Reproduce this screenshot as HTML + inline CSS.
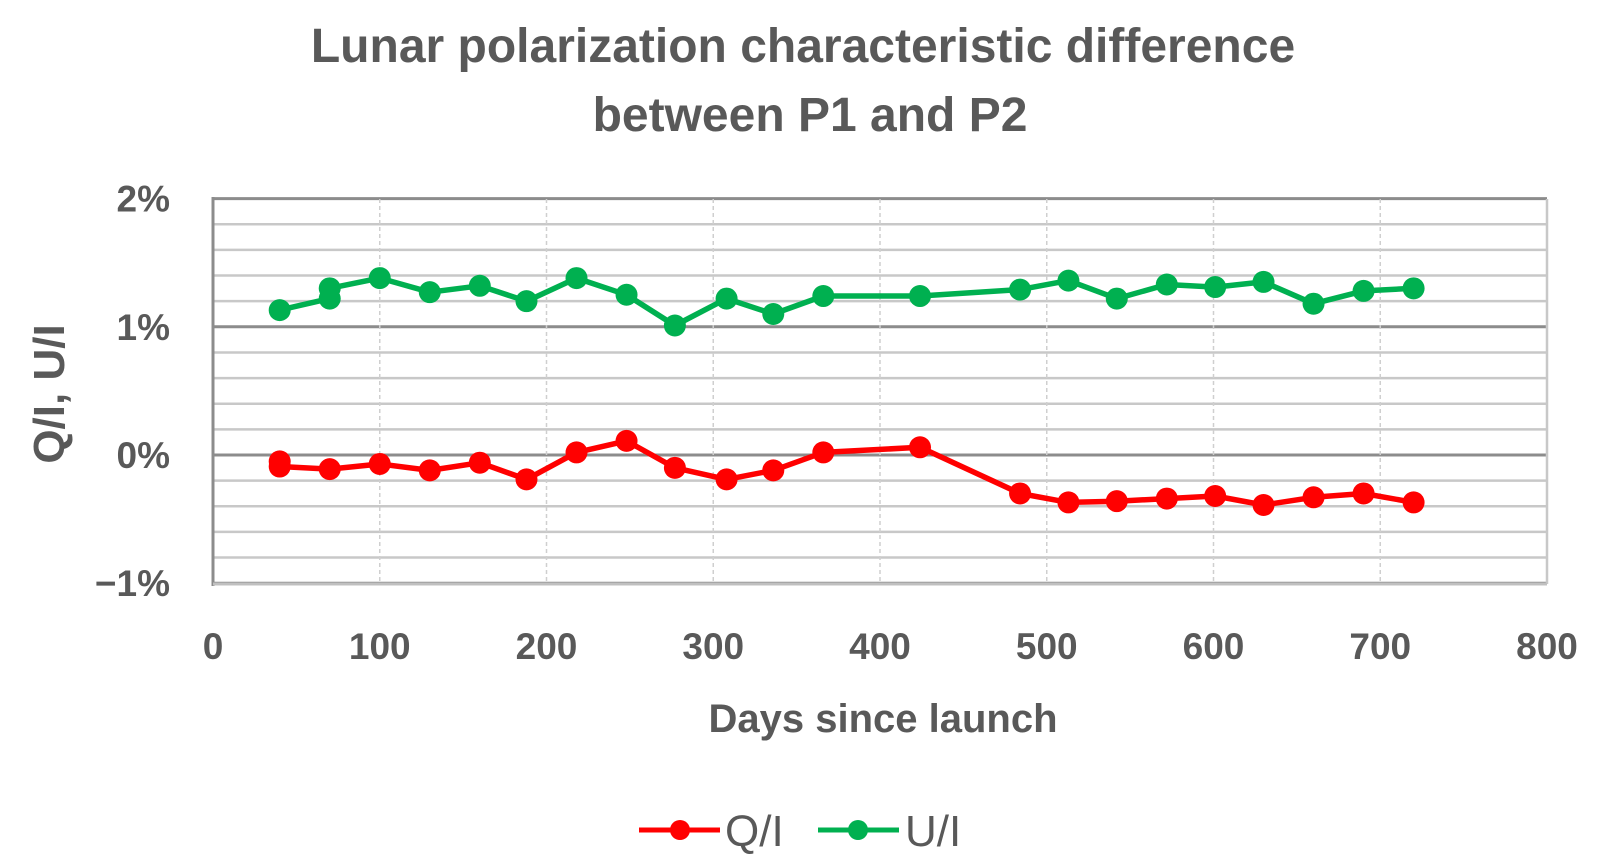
<!DOCTYPE html>
<html><head><meta charset="utf-8"><style>
html,body{margin:0;padding:0;background:#fff;width:1603px;height:865px;overflow:hidden}
svg text{font-family:"Liberation Sans",sans-serif;fill:#595959;font-weight:bold}
</style></head><body>
<svg id="s" width="1603" height="865" viewBox="0 0 1603 865" xmlns="http://www.w3.org/2000/svg">
<text x="803" y="62" font-size="48" text-anchor="middle">Lunar polarization characteristic difference</text>
<text x="810" y="131" font-size="48" text-anchor="middle">between P1 and  P2</text>
<g id="grid"></g>
<g id="lbl" font-size="37"></g>
<text x="0" y="0" font-size="44" text-anchor="middle" transform="translate(64,394) rotate(-90)">Q/I, U/I</text>
<text x="883" y="732" font-size="40" text-anchor="middle">Days since launch</text>
<g id="ser"></g>
<line x1="639" y1="830" x2="720" y2="830" stroke="#ff0000" stroke-width="5"/>
<circle cx="680" cy="830" r="10" fill="#ff0000"/>
<text x="725" y="846" font-size="44" style="font-weight:normal">Q/I</text>
<line x1="818" y1="830" x2="899" y2="830" stroke="#00b050" stroke-width="5"/>
<circle cx="858" cy="830" r="10" fill="#00b050"/>
<text x="905" y="846" font-size="44" style="font-weight:normal">U/I</text>
</svg>
<script>
var NS="http://www.w3.org/2000/svg";
function X(d){return 213+d*1.6675}
function Y(p){return 455-p*128.2}
function el(p,t,a){var e=document.createElementNS(NS,t);for(var k in a)e.setAttribute(k,a[k]);p.appendChild(e);return e}
var g=document.getElementById('grid'),l=document.getElementById('lbl'),s=document.getElementById('ser');
for(var i=0;i<=15;i++){var p=-1+i*0.2,y=Y(p);var major=(i%5==0);
 el(g,'line',{x1:213,x2:1547,y1:y,y2:y,stroke:major?'#8c8c8c':'#c8c8c8','stroke-width':major?3:2.5});}
for(var d=100;d<=700;d+=100){el(g,'line',{x1:X(d),x2:X(d),y1:199,y2:584,stroke:'#cfcfcf','stroke-width':1.5,'stroke-dasharray':'4,3'});}
el(g,'line',{x1:1547,x2:1547,y1:199,y2:584,stroke:'#c8c8c8','stroke-width':2.5});
el(g,'line',{x1:213,x2:213,y1:197,y2:586,stroke:'#8c8c8c','stroke-width':3});
el(g,'line',{x1:213,x2:1547,y1:584,y2:584,stroke:'#c0c0c0','stroke-width':3});
var yl=[['2%',2],['1%',1],['0%',0],['\u22121%',-1]];
yl.forEach(function(a){var t=el(l,'text',{x:170,y:Y(a[1])+13,'text-anchor':'end'});t.textContent=a[0];});
for(var d=0;d<=800;d+=100){var t=el(l,'text',{x:X(d),y:659,'text-anchor':'middle'});t.textContent=d;}
var U=[[40,1.13],[70,1.22],[70,1.30],[100,1.38],[130,1.27],[160,1.32],[188,1.20],[218,1.38],[248,1.25],[277,1.01],[308,1.22],[336,1.10],[366,1.24],[424,1.24],[484,1.29],[513,1.36],[542,1.22],[572,1.33],[601,1.31],[630,1.35],[660,1.18],[690,1.28],[720,1.30]];
var Q=[[40,-0.05],[40,-0.09],[70,-0.11],[100,-0.07],[130,-0.12],[160,-0.06],[188,-0.19],[218,0.02],[248,0.11],[277,-0.10],[308,-0.19],[336,-0.12],[366,0.02],[424,0.06],[484,-0.30],[513,-0.37],[542,-0.36],[572,-0.34],[601,-0.32],[630,-0.39],[660,-0.33],[690,-0.30],[720,-0.37]];
function draw(D,c){var pts=D.map(function(a){return X(a[0]).toFixed(1)+','+Y(a[1]).toFixed(1)}).join(' ');
 el(s,'polyline',{points:pts,fill:'none',stroke:c,'stroke-width':5.5,'stroke-linejoin':'round'});
 D.forEach(function(a){el(s,'circle',{cx:X(a[0]),cy:Y(a[1]),r:11,fill:c});});}
draw(U,'#00b050');draw(Q,'#ff0000');
</script>
</body></html>
